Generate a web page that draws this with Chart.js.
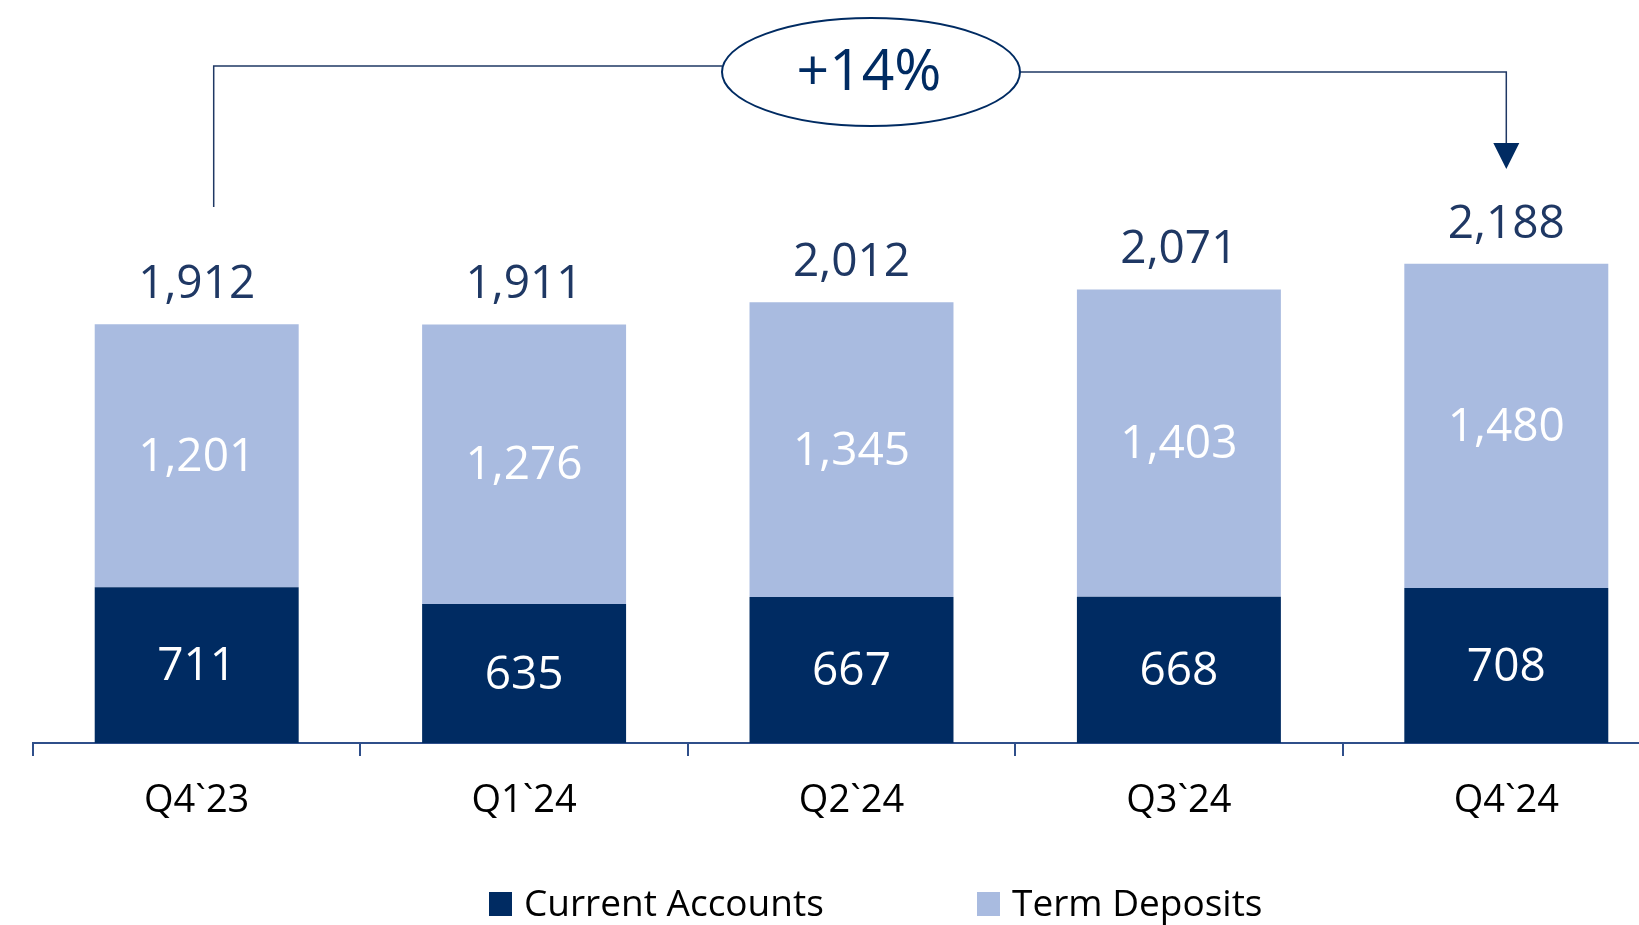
<!DOCTYPE html>
<html>
<head>
<meta charset="utf-8">
<script src="https://cdn.jsdelivr.net/npm/chart.js@4.4.1/dist/chart.umd.min.js"></script>
<style>
  html, body { margin: 0; padding: 0; background: #ffffff; }
  #wrap { width: 1639px; height: 925px; overflow: hidden; position: relative; }
  canvas { display: block; }
</style>
</head>
<body>
<div id="wrap"><canvas id="c" width="1670" height="925"></canvas></div>
<script>
const categories = ["Q4`23", "Q1`24", "Q2`24", "Q3`24", "Q4`24"];
const currentAccounts = [711, 635, 667, 668, 708];
const termDeposits = [1201, 1276, 1345, 1403, 1480];
const totals = [1912, 1911, 2012, 2071, 2188];
const growthLabel = "+14%";
const seriesNames = ["Current Accounts", "Term Deposits"];

const NAVY = '#002B62';
const LIGHT = '#A9BBE0';
const TOTAL_COLOR = '#1F3864';
const FONT = "'Open Sans', 'Noto Sans', sans-serif";

const labelsPlugin = {
  id: 'valueLabels',
  afterDatasetsDraw(chart) {
    const ctx = chart.ctx;
    ctx.save();
    ctx.font = `46px ${FONT}`;
    ctx.textAlign = 'center';
    ctx.textBaseline = 'middle';
    chart.data.datasets.forEach((ds, di) => {
      const meta = chart.getDatasetMeta(di);
      meta.data.forEach((bar, i) => {
        const v = ds.data[i];
        const mid = (bar.y + bar.base) / 2;
        ctx.fillStyle = '#ffffff';
        ctx.fillText(v.toLocaleString('en-US'), bar.x, mid + 2);
      });
    });
    const topMeta = chart.getDatasetMeta(1);
    ctx.fillStyle = TOTAL_COLOR;
    ctx.textBaseline = 'alphabetic';
    topMeta.data.forEach((bar, i) => {
      ctx.fillText(totals[i].toLocaleString('en-US'), bar.x, bar.y - 26);
    });
    ctx.restore();
  }
};

const annotationPlugin = {
  id: 'growthAnnotation',
  afterDraw(chart) {
    const ctx = chart.ctx;
    const xs = chart.scales.x;
    const x0 = xs.getPixelForValue(0) + 17;
    const x1 = xs.getPixelForValue(categories.length - 1);
    const cx = 871, cy = 72, rx = 149, ry = 54;
    ctx.save();
    ctx.strokeStyle = TOTAL_COLOR;
    ctx.lineWidth = 1.5;
    ctx.beginPath();
    ctx.moveTo(x0, 207);
    ctx.lineTo(x0, 66);
    ctx.lineTo(cx - rx, 66);
    ctx.stroke();
    ctx.beginPath();
    ctx.moveTo(cx + rx, 72);
    ctx.lineTo(x1, 72);
    ctx.lineTo(x1, 144);
    ctx.stroke();
    ctx.fillStyle = NAVY;
    ctx.beginPath();
    ctx.moveTo(x1 - 13, 143);
    ctx.lineTo(x1 + 13, 143);
    ctx.lineTo(x1, 169);
    ctx.closePath();
    ctx.fill();
    ctx.beginPath();
    ctx.ellipse(cx, cy, rx, ry, 0, 0, Math.PI * 2);
    ctx.fillStyle = '#ffffff';
    ctx.fill();
    ctx.lineWidth = 2;
    ctx.strokeStyle = NAVY;
    ctx.stroke();
    ctx.fillStyle = NAVY;
    ctx.font = `57px ${FONT}`;
    ctx.textAlign = 'center';
    ctx.textBaseline = 'middle';
    ctx.fillText(growthLabel, cx - 2, cy + 2);
    ctx.restore();
  }
};

const legendPlugin = {
  id: 'customLegend',
  afterDraw(chart) {
    const ctx = chart.ctx;
    const anchors = [489, 977];
    ctx.save();
    ctx.font = `37px ${FONT}`;
    ctx.textAlign = 'left';
    ctx.textBaseline = 'middle';
    chart.data.datasets.forEach((ds, i) => {
      const bx = anchors[i];
      ctx.fillStyle = ds.backgroundColor;
      ctx.fillRect(bx, 892, 23, 24);
      ctx.fillStyle = '#000000';
      ctx.fillText(ds.label, bx + 35, 905);
    });
    ctx.restore();
  }
};

new Chart(document.getElementById('c'), {
  type: 'bar',
  data: {
    labels: categories,
    datasets: [
      { label: seriesNames[0], data: currentAccounts, backgroundColor: NAVY, borderWidth: 0,
        barPercentage: 0.623, categoryPercentage: 1.0 },
      { label: seriesNames[1], data: termDeposits, backgroundColor: LIGHT, borderWidth: 0,
        barPercentage: 0.623, categoryPercentage: 1.0 }
    ]
  },
  options: {
    responsive: false,
    animation: false,
    devicePixelRatio: 1,
    layout: { padding: { left: 33, right: 0, top: 86, bottom: 0 } },
    plugins: {
      legend: { display: false },
      tooltip: { enabled: false }
    },
    scales: {
      x: {
        stacked: true,
        grid: {
          display: true, drawOnChartArea: false, drawTicks: true,
          tickLength: 13, color: '#2F4F8A', lineWidth: 2, offset: true
        },
        border: { display: true, color: '#2F4F8A', width: 2 },
        ticks: {
          color: '#000000', padding: 22, maxRotation: 0, autoSkip: false,
          font: { family: FONT, size: 38 }
        },
        afterFit(scale) { scale.height = 182; }
      },
      y: {
        stacked: true, display: false, min: 0, max: 3000
      }
    }
  },
  plugins: [labelsPlugin, annotationPlugin, legendPlugin]
});
</script>
</body>
</html>
